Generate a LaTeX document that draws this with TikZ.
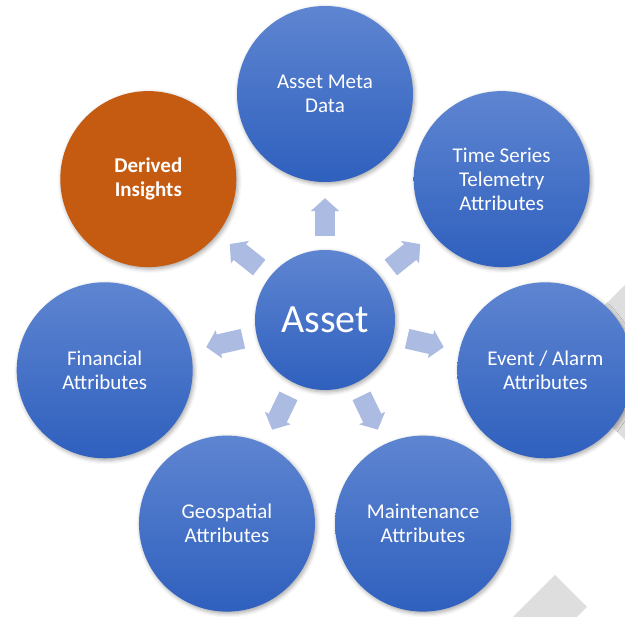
\documentclass[tikz,border=0pt]{standalone}
\usepackage{fontspec}
\setmainfont{Carlito}
\usepackage{xcolor}
\usepackage{tikz}
\usetikzlibrary{arrows.meta}
\usetikzlibrary{shadows.blur}
\definecolor{bluetop}{RGB}{94,133,209}
\definecolor{bluebottom}{RGB}{47,96,190}
\definecolor{insight}{RGB}{197,90,17}
\definecolor{arrowblue}{RGB}{172,187,225}
\definecolor{watergray}{RGB}{222,222,222}
\tikzset{
  style blue/.style={
    top color=bluetop,
    bottom color=bluebottom,
  },
  style orange/.style={
    fill=insight,
  },
  bubble/.style={
    circle,
    minimum size=176pt,
    inner sep=0pt,
    align=center,
    text=white,
    font=\fontsize{21}{24}\selectfont,
    blur shadow={shadow xshift=1.5pt, shadow yshift=-2pt, shadow blur radius=4pt, shadow opacity=35},
    #1
  },
  hub/.style={
    circle,
    minimum size=140pt,
    inner sep=0pt,
    text=white,
    font=\fontsize{40}{48}\selectfont,
    blur shadow={shadow xshift=1.5pt, shadow yshift=-2pt, shadow blur radius=4pt, shadow opacity=35},
    #1
  }
}

\begin{document}
\begin{tikzpicture}[x=1pt, y=1pt]
                    \useasboundingbox (-325,-297) rectangle (300,320);
                    % watermark strips behind the right side
                    \fill [watergray] (300,-120) -- (222.5,-42.5) -- (300,35) -- cycle;
                    \fill [watergray] (230,-255) -- (262,-287) -- (252,-297) -- (188,-297) -- cycle;
                    \node [hub={style blue}] (asset) at (0,0) {Asset};
                    \node [bubble={style orange}, font=\fontsize{21}{24}\selectfont\bfseries] (derived) at (141.43:226) {Derived\\Insights};
                    \begin{scope}[every node/.style={bubble={style blue}}]
                        \node (meta)   at (  90.00:226) {Asset Meta\\Data};
                        \node (series) at (  38.57:226) {Time Series\\Telemetry\\Attributes};
                        \node (event)  at ( -12.86:226) {Event / Alarm\\Attributes};
                        \node (maint)  at ( -64.29:226) {Maintenance\\Attributes};
                        \node (geo)    at (-115.71:226) {Geospatial\\Attributes};
                        \node (money)  at (-167.14:226) {Financial\\Attributes};
                    \end{scope}
                    \begin{scope}[>={Triangle[width=28pt,length=13pt]}, every edge/.style={draw=arrowblue, line width=20pt, shorten <=14pt, shorten >=16pt}]
                        \path [->] (asset) edge (meta);
                        \path [->] (asset) edge (series);
                        \path [->] (asset) edge (event);
                        \path [->] (asset) edge (maint);
                        \path [->] (asset) edge (geo);
                        \path [->] (asset) edge (money);
                        \path [->] (asset) edge (derived);
                    \end{scope}
                \end{tikzpicture}
\end{document}
